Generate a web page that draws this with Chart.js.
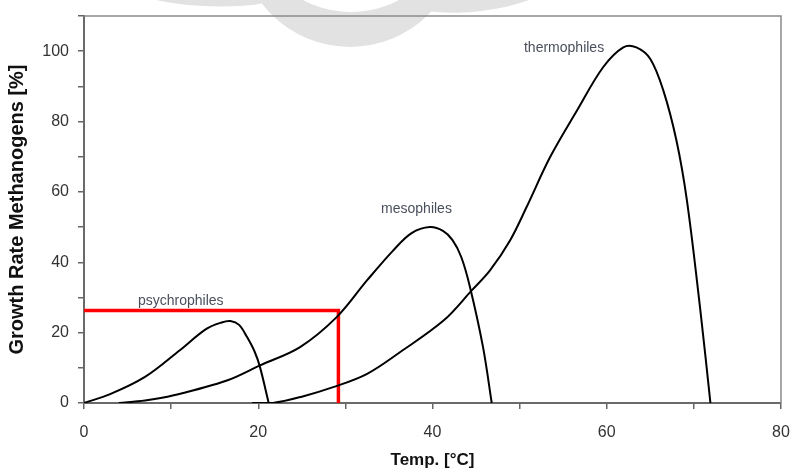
<!DOCTYPE html>
<html>
<head>
<meta charset="utf-8">
<script src="https://cdn.jsdelivr.net/npm/chart.js@4.4.1/dist/chart.umd.min.js"></script>
<style>
  html, body { margin: 0; padding: 0; background: #fff; }
  #wrap { width: 793px; height: 471px; }
</style>
</head>
<body>
<div id="wrap"><canvas id="growthChart" width="793" height="471"></canvas></div>
<script>
// temperature [°C] and growth rate [%]
const psychroTemp = [0, 3, 7, 11, 14, 15.8, 16.8, 17.8, 18.7, 19.6, 20.2, 21.2];
const psychroRate = [0, 2.5, 7.4, 15, 21, 22.9, 23.3, 22.2, 18.8, 14.5, 10.2, 0];

const mesoTemp = [4, 7, 10.3, 16.4, 20.2, 24.8, 29, 32.5, 35.5, 37.6, 39.7, 41.2, 42.3, 43.3, 44.3, 45.8, 46.8];
const mesoRate = [0, 0.7, 2.2, 6.4, 10.7, 15.9, 24.4, 34.9, 43.4, 48.3, 50, 48.9, 46.3, 41.5, 33, 15.9, 0];

const thermoTemp = [19.3, 21.7, 25, 28.6, 32.5, 36.3, 41.3, 44.5, 46.6, 48.9, 50.8, 53.5, 56.6, 59.6, 61.9, 63.4, 65, 66.5, 68, 69.2, 70.7, 71.9];
const thermoRate = [0, 0, 1.8, 4.5, 8.3, 14.5, 23.5, 32, 37.7, 46.2, 55.7, 69.9, 83.2, 95.5, 101.1, 101.1, 97.8, 88.8, 74.6, 57.6, 27.3, 0];

// red marker line
const markerTemp = [0, 29.2, 29.2];
const markerRate = [26.3, 26.3, 0];

// curve labels (left edge, middle of text) in data units
const labelText = ["psychrophiles", "mesophiles", "thermophiles"];
const labelTemp = [6.2, 34.1, 50.5];
const labelRate = [28.9, 55, 100.8];

const xTicks = [0, 10, 20, 30, 40, 50, 60, 70, 80];
const yTicks = [0, 10, 20, 30, 40, 50, 60, 70, 80, 90, 100, 110];

const FONT = "'Liberation Sans', Arial, sans-serif";

function toPoints(xs, ys) {
  return xs.map((x, i) => ({ x: x, y: ys[i] }));
}

function curve(xs, ys) {
  return {
    data: toPoints(xs, ys),
    borderColor: "#000",
    borderWidth: 2,
    pointRadius: 0,
    showLine: true,
    tension: 0.35,
  };
}

// faint watermark + top/right frame + curve labels
const extrasPlugin = {
  id: "extras",
  beforeDraw(chart) {
    const ctx = chart.ctx;
    ctx.save();
    ctx.fillStyle = "#e2e2e2";
    // crescent
    ctx.beginPath();
    ctx.arc(350, -64, 111, 0, Math.PI * 2);
    ctx.arc(351, -90, 102, 0, Math.PI * 2, true);
    ctx.fill("evenodd");
    // swooshes either side
    ctx.beginPath();
    ctx.ellipse(205, -7, 70, 13, 0.05, 0, Math.PI * 2);
    ctx.fill();
    ctx.beginPath();
    ctx.ellipse(480, -3, 62, 14, -0.12, 0, Math.PI * 2);
    ctx.fill();
    ctx.restore();
  },
  afterDraw(chart) {
    const ctx = chart.ctx;
    const a = chart.chartArea;
    ctx.save();
    ctx.strokeStyle = "#8a8a8a";
    ctx.lineWidth = 1.5;
    ctx.beginPath();
    ctx.moveTo(a.left, a.top);
    ctx.lineTo(a.right, a.top);
    ctx.lineTo(a.right, a.bottom);
    ctx.stroke();

    const xs = chart.scales.x;
    const ys = chart.scales.y;
    ctx.font = "14px " + FONT;
    ctx.fillStyle = "#4a4f5c";
    ctx.textBaseline = "middle";
    ctx.textAlign = "left";
    labelText.forEach((t, i) => {
      ctx.fillText(t, xs.getPixelForValue(labelTemp[i]), ys.getPixelForValue(labelRate[i]));
    });
    ctx.restore();
  },
};

const ctx = document.getElementById("growthChart").getContext("2d");
const growthChart = new Chart(ctx, {
  type: "scatter",
  data: {
    datasets: [
      curve(psychroTemp, psychroRate),
      curve(mesoTemp, mesoRate),
      curve(thermoTemp, thermoRate),
      {
        data: toPoints(markerTemp, markerRate),
        borderColor: "#ff0000",
        borderWidth: 3.5,
        pointRadius: 0,
        showLine: true,
        tension: 0,
      },
    ],
  },
  options: {
    responsive: false,
    animation: false,
    layout: { padding: { top: 16, right: 12, left: 0, bottom: 0 } },
    plugins: {
      legend: { display: false },
      tooltip: { enabled: false },
    },
    scales: {
      x: {
        type: "linear",
        min: 0,
        max: 80,
        afterBuildTicks(scale) {
          scale.ticks = xTicks.map((v) => ({ value: v }));
        },
        afterFit(scale) {
          scale.height = 68;
          scale.paddingLeft = 0;
          scale.paddingRight = 0;
        },
        ticks: {
          autoSkip: false,
          maxRotation: 0,
          padding: 14,
          color: "#333",
          font: { family: FONT, size: 16 },
          callback: (v) => (v % 20 === 0 ? v : ""),
        },
        grid: {
          drawOnChartArea: false,
          drawTicks: true,
          tickLength: 6,
          color: "#666",
          lineWidth: 1.5,
        },
        border: { display: true, color: "#6a6a6a", width: 2 },
        title: {
          display: true,
          text: "Temp. [°C]",
          color: "#111",
          font: { family: FONT, size: 17, weight: "bold" },
          padding: { top: 0, bottom: 0 },
        },
      },
      y: {
        type: "linear",
        min: 0,
        max: 110,
        afterBuildTicks(scale) {
          scale.ticks = yTicks.map((v) => ({ value: v }));
        },
        afterFit(scale) {
          scale.width = 84;
          scale.paddingTop = 0;
          scale.paddingBottom = 0;
        },
        ticks: {
          autoSkip: false,
          padding: 9,
          color: "#333",
          font: { family: FONT, size: 16 },
          callback: (v) => (v % 20 === 0 && v <= 100 ? v : ""),
        },
        grid: {
          drawOnChartArea: false,
          drawTicks: true,
          tickLength: 6,
          color: "#666",
          lineWidth: 1.5,
        },
        border: { display: true, color: "#6a6a6a", width: 2 },
        title: {
          display: true,
          text: "Growth Rate Methanogens [%]",
          color: "#111",
          font: { family: FONT, size: 20, weight: "bold" },
          padding: { top: 5, bottom: 0 },
        },
      },
    },
  },
  plugins: [extrasPlugin],
});
</script>
</body>
</html>
